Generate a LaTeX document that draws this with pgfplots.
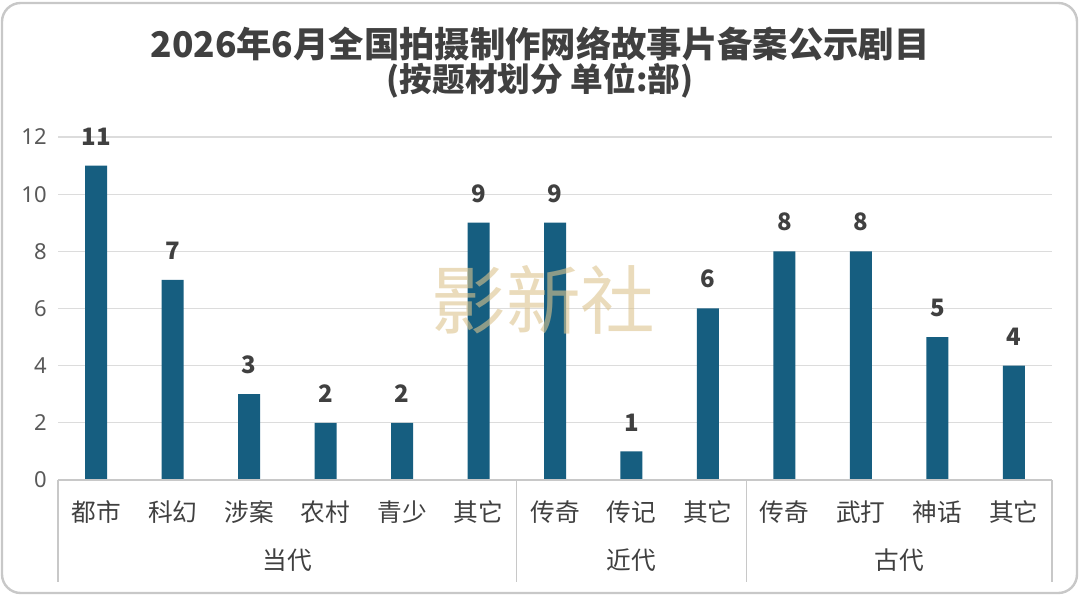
\documentclass[border=0pt]{standalone}
\usepackage{fontspec}
\setmainfont{Noto Sans}
\newfontfamily\cjk{Noto Sans CJK SC}
\usepackage{pgfplots}
\pgfplotsset{compat=1.18}
\definecolor{barc}{HTML}{165E80}
\definecolor{tgray}{HTML}{404040}
\definecolor{lgray}{HTML}{595959}
\definecolor{gridc}{HTML}{DCDCDC}
\definecolor{axc}{HTML}{C8C8C8}
\definecolor{wm}{HTML}{DCC48E}
\begin{document}
\begin{tikzpicture}
\begin{scope}[x=0.75pt,y=0.75pt]
\path[use as bounding box] (0,0) rectangle (1080,596);
\draw[rounded corners=14pt, draw=axc, line width=1.8pt, fill=white] (2,3) rectangle (1077,593);
\node[font=\cjk\bfseries\fontsize{26.5}{30}\selectfont, text=tgray] at (540,552) {2026年6月全国拍摄制作网络故事片备案公示剧目};
\node[font=\cjk\bfseries\fontsize{24.5}{28}\selectfont, text=tgray] at (540,515) {(按题材划分 单位:部)};
\end{scope}
\begin{axis}[
  at={(43.5pt,87pt)}, anchor=south west,
  scale only axis, width=745.5pt, height=257.25pt,
  xmin=-0.5, xmax=12.5, ymin=0, ymax=12,
  ytick={0,2,...,12},
  xtick=data,
  xticklabels={都市,科幻,涉案,农村,青少,其它,传奇,传记,其它,传奇,武打,神话,其它},
  xticklabel style={font=\cjk\fontsize{18.5}{20}\selectfont, text=tgray, anchor=center, yshift=-24pt},
  yticklabel style={font=\fontsize{16.5}{18}\selectfont, text=lgray, xshift=-5pt},
  /pgf/number format/assume math mode=true,
  major tick length=0pt,
  axis line style={draw=none},
  ymajorgrids, grid style={draw=gridc, line width=0.9pt},
  clip=false,
  ybar, bar width=16.5pt,
  nodes near coords,
  nodes near coords style={font=\cjk\bfseries\fontsize{18}{20}\selectfont, text=tgray, anchor=south, inner sep=0pt, yshift=15pt},
]
\addplot[fill=barc, draw=none] coordinates {(0,11) (1,7) (2,3) (3,2) (4,2) (5,9) (6,9) (7,1) (8,6) (9,8) (10,8) (11,5) (12,4)};
\draw[axc, line width=0.9pt] (axis cs:-0.5,0) -- (axis cs:12.5,0);
\pgfplotsinvokeforeach{-0.5,5.5,8.5,12.5}{
  \draw[axc, line width=0.9pt] (axis cs:#1,0) -- ++(0pt,-76.5pt);
}
\node[font=\cjk\fontsize{18.5}{20}\selectfont, text=tgray] at ([yshift=-60pt]axis cs:2.5,0) {当代};
\node[font=\cjk\fontsize{18.5}{20}\selectfont, text=tgray] at ([yshift=-60pt]axis cs:7,0) {近代};
\node[font=\cjk\fontsize{18.5}{20}\selectfont, text=tgray] at ([yshift=-60pt]axis cs:10.5,0) {古代};
\node[font=\cjk\fontsize{56}{58}\selectfont, text=wm, opacity=0.6] at (axis cs:5.85,6.3) {影新社};
\end{axis}
\end{tikzpicture}
\end{document}
